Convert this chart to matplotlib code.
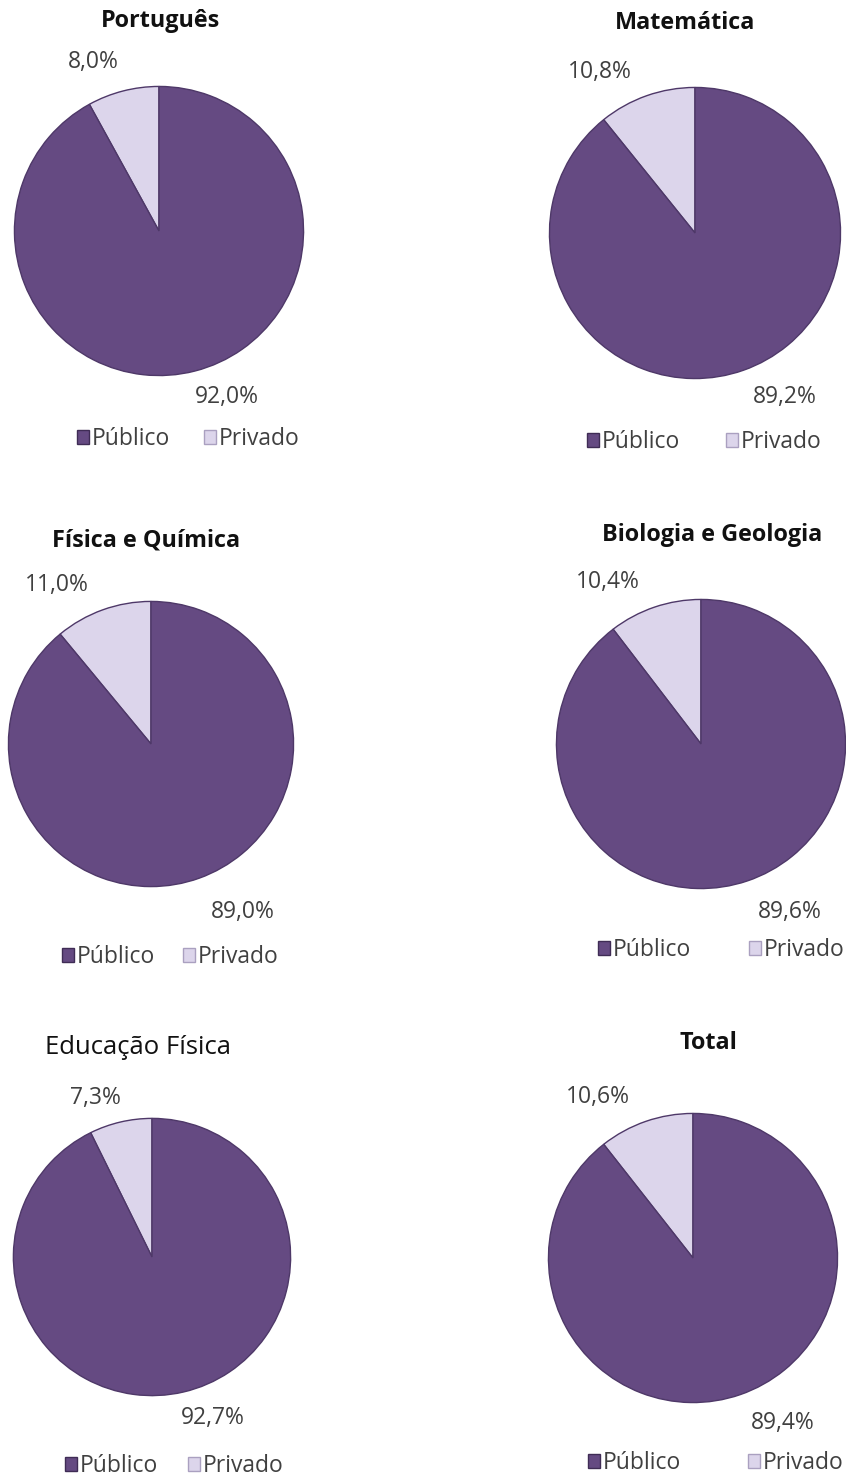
import matplotlib
matplotlib.use("Agg")
import matplotlib.pyplot as plt
from matplotlib.patches import Patch

titles = ["Português", "Matemática", "Física e Química", "Biologia e Geologia", "Educação Física", "Total"]
categories = ["Público", "Privado"]
publico = [92.0, 89.2, 89.0, 89.6, 92.7, 89.4]
privado = [8.0, 10.8, 11.0, 10.4, 7.3, 10.6]

W, H = 846, 1479
col_pub = "#654a82"
col_priv = "#dcd5eb"

# layout in pixels (positions only)
layout = [
    dict(c=(159, 231, 146), t=(160, 21), lp=(93, 62), lb=(227, 397), leg=(77, 439), gap=34, tb=True),
    dict(c=(695, 233, 147), t=(685, 23), lp=(600, 72), lb=(785, 397), leg=(587, 442), gap=46, tb=True),
    dict(c=(151, 744, 144), t=(146, 540), lp=(57, 585), lb=(243, 912), leg=(62, 957), gap=28, tb=True),
    dict(c=(701, 744, 146), t=(712, 535), lp=(608, 582), lb=(790, 912), leg=(598, 950), gap=58, tb=True),
    dict(c=(152, 1257, 140), t=(138, 1048), lp=(95, 1098), lb=(213, 1418), leg=(65, 1466), gap=30, tb=False),
    dict(c=(693, 1258, 146), t=(708, 1043), lp=(598, 1097), lb=(783, 1423), leg=(588, 1463), gap=67, tb=True),
]

plt.rcParams["font.family"] = ["Open Sans", "DejaVu Sans"]
fig = plt.figure(figsize=(W / 100, H / 100), dpi=100)
fig.patch.set_facecolor("white")

LEG_FS = 16.5
FS_PX = LEG_FS * 100 / 72


def fx(x):
    return x / W


def fy(y):
    return 1 - y / H


def fmt(v):
    return f"{v:.1f}%".replace(".", ",")


for i, L in enumerate(layout):
    cx, cy, r = L["c"]
    ax = fig.add_axes([fx(cx - r), fy(cy + r), 2 * r / W, 2 * r / H])
    ax.pie([privado[i], publico[i]], colors=[col_priv, col_pub], startangle=90,
           counterclock=True, radius=1,
           wedgeprops=dict(edgecolor="#4e3868", linewidth=1.0))
    ax.set_xlim(-1.01, 1.01)
    ax.set_ylim(-1.01, 1.01)
    ax.set_aspect("equal")
    ax.axis("off")

    if L["tb"]:
        fig.text(fx(L["t"][0]), fy(L["t"][1]), titles[i], ha="center", va="center",
                 fontsize=16.8, fontweight="bold", color="#111111")
    else:
        fig.text(fx(L["t"][0]), fy(L["t"][1]), titles[i], ha="center", va="center",
                 fontsize=18.5, fontweight="normal", color="#111111")
    fig.text(fx(L["lp"][0]), fy(L["lp"][1]), fmt(privado[i]), ha="center", va="center",
             fontsize=16.5, color="#404040")
    fig.text(fx(L["lb"][0]), fy(L["lb"][1]), fmt(publico[i]), ha="center", va="center",
             fontsize=16.5, color="#404040")

    handles = [Patch(facecolor=col_pub, edgecolor="#3f2c55"),
               Patch(facecolor=col_priv, edgecolor="#aaa0c0")]
    fig.legend(handles, categories, loc="center left",
               bbox_to_anchor=(fx(L["leg"][0]), fy(L["leg"][1])),
               ncol=2, frameon=False, fontsize=LEG_FS, handlelength=0.52, handleheight=0.52,
               handletextpad=0.12, columnspacing=L["gap"] / FS_PX, borderpad=0,
               borderaxespad=0, labelcolor="#404040")

fig.savefig("out.png", dpi=100, facecolor="white")
